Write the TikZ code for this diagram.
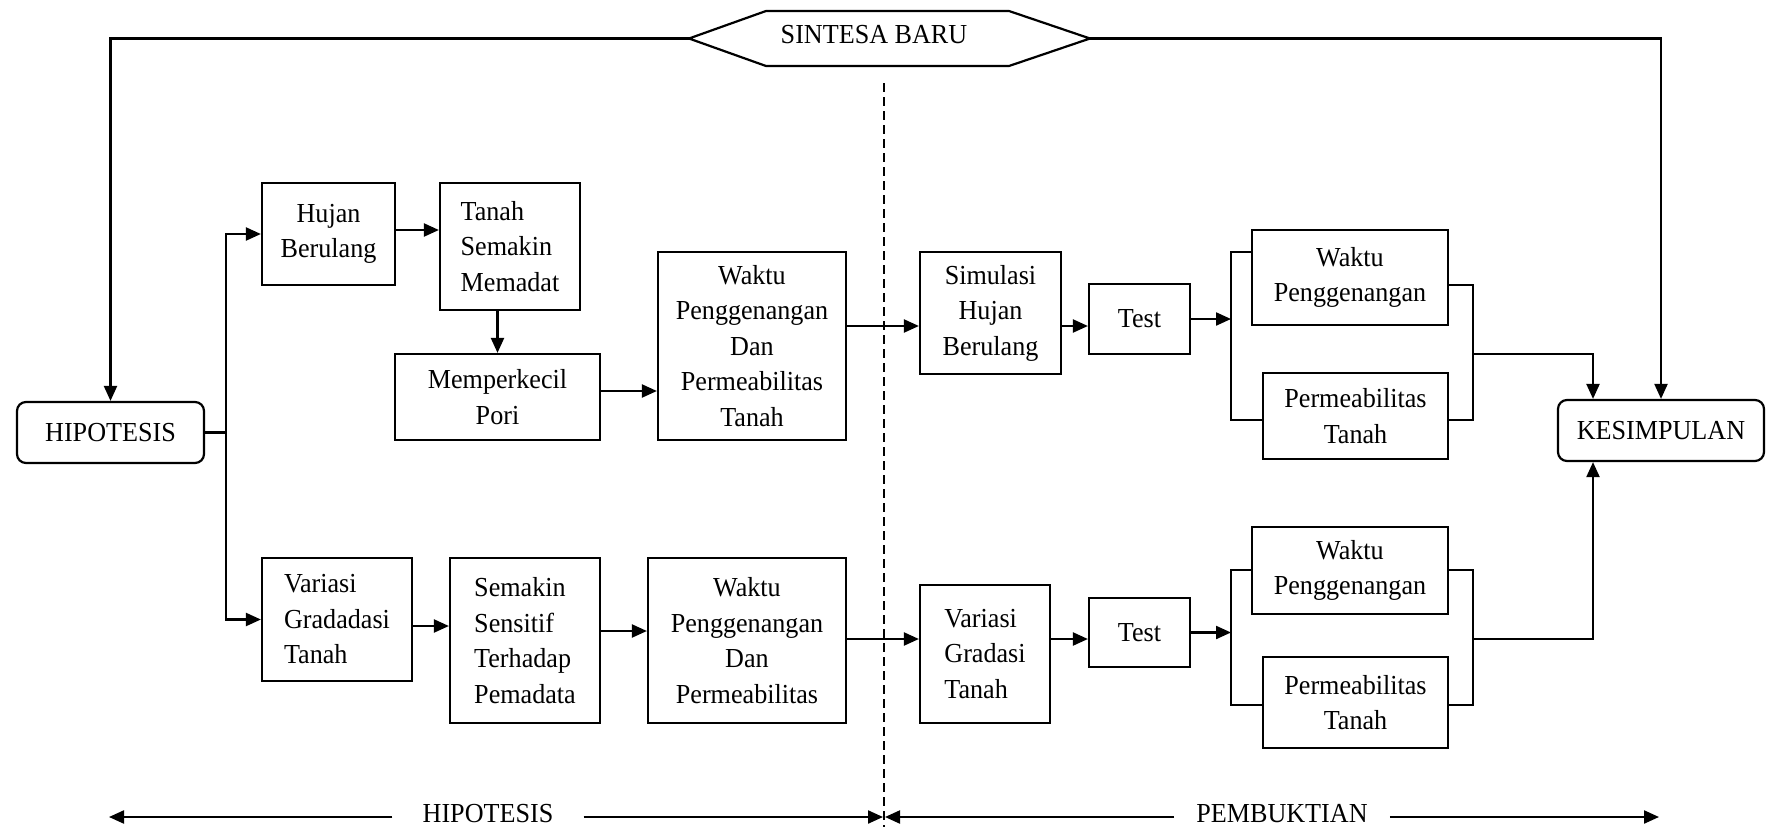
\documentclass[tikz,border=0pt]{standalone}
\usepackage{fontspec}
\setmainfont{Liberation Serif}[FakeStretch=0.95]
\usetikzlibrary{arrows.meta,calc}
\begin{document}
\begin{tikzpicture}[x=1pt,y=-1pt,
  every node/.style={font=\fontsize{27.5}{35.5}\selectfont},
  box/.style={draw, line width=2.2pt, inner sep=0pt, align=center},
  lbox/.style={box, align=left},
  rbox/.style={box, rounded corners=9pt},
  conn/.style={line width=2.2pt},
  arr/.style={conn, -{Triangle[length=15pt,width=13pt]}},
  sepline/.style={line width=1.6pt, dash pattern=on 9pt off 5pt}]
\useasboundingbox (0,0) rectangle (1767,827);
\fill[white] (0,0) rectangle (1767,827);

% hexagon
\coordinate (hexL) at (689,38.5);
\coordinate (hexR) at (1090,38.5);
\draw[conn] (hexL) -- (766,11) -- (1009,11) -- (hexR) -- (1009,66) -- (766,66) -- cycle;
\node[inner sep=0pt] (sin) at (874,35) {SINTESA BARU};

% left / right end boxes
\node[rbox, minimum width=187pt, minimum height=61pt] (hip) at (110.5,432.5) {HIPOTESIS};
\node[rbox, minimum width=206pt, minimum height=61pt] (kes) at (1661,430.5) {KESIMPULAN};

% upper hypothesis branch
\node[box, minimum width=133pt, minimum height=102pt] (hujan) at (328.5,234) {Hujan\\Berulang};
\node[lbox, minimum width=140pt, minimum height=127pt] (tanah) at (510,246.5) {Tanah\\Semakin\\Memadat};
\node[box, minimum width=205pt, minimum height=86pt] (memp) at (497.5,397) {Memperkecil\\Pori};
\node[box, minimum width=188pt, minimum height=188pt] (waktu1) at (752,346) {Waktu\\Penggenangan\\Dan\\Permeabilitas\\Tanah};

% lower hypothesis branch
\node[lbox, minimum width=150pt, minimum height=123pt] (var1) at (337,619.5) {Variasi\\Gradadasi\\Tanah};
\node[lbox, minimum width=150pt, minimum height=165pt] (sem) at (525,640.5) {Semakin\\Sensitif\\Terhadap\\Pemadata};
\node[box, minimum width=198pt, minimum height=165pt] (waktu2) at (747,640.5) {Waktu\\Penggenangan\\Dan\\Permeabilitas};

% upper proof branch
\node[box, minimum width=141pt, minimum height=122pt] (sim) at (990.5,313) {Simulasi\\Hujan\\Berulang};
\node[box, minimum width=101pt, minimum height=70pt] (test1) at (1139.5,319) {Test};
\node[box, minimum width=196pt, minimum height=95pt] (wp1) at (1350,277.5) {Waktu\\Penggenangan};
\node[box, minimum width=185pt, minimum height=86pt] (pt1) at (1355.5,416) {Permeabilitas\\Tanah};

% lower proof branch
\node[lbox, minimum width=130pt, minimum height=138pt] (var2) at (985,654) {Variasi\\Gradasi\\Tanah};
\node[box, minimum width=101pt, minimum height=69pt] (test2) at (1139.5,632.5) {Test};
\node[box, minimum width=196pt, minimum height=87pt] (wp2) at (1350,570.5) {Waktu\\Penggenangan};
\node[box, minimum width=185pt, minimum height=91pt] (pt2) at (1355.5,702.5) {Permeabilitas\\Tanah};

% helper coordinates
\coordinate (split) at (226,432.5);
\coordinate (r1) at (0,326);
\coordinate (r2) at (0,639);
\coordinate (rv) at (0,626);
\coordinate (rs) at (0,631);
\coordinate (bl1t) at (1231,252);
\coordinate (bl1b) at (1231,420);
\coordinate (br1t) at (1473,285);
\coordinate (br1b) at (1473,420);
\coordinate (br1m) at (1473,354);
\coordinate (bl2t) at (1231,570);
\coordinate (bl2b) at (1231,705);
\coordinate (br2t) at (1473,570);
\coordinate (br2b) at (1473,705);
\coordinate (br2m) at (1473,639);
\coordinate (kx) at (1593,0);

% top feedback lines
\draw[arr] (hexL) -| (hip.north);
\draw[arr] (hexR) -| (kes.north);

% hypothesis connectors
\draw[conn] (hip.east) -- (split);
\draw[arr] (split) |- (hujan.west);
\draw[arr] (split) |- (var1.west);
\draw[arr] (hujan.east |- 0,230) -- (tanah.west |- 0,230);
\draw[arr] (tanah.south -| memp.north) -- (memp.north);
\draw[arr] (memp.east |- 0,391) -- (waktu1.west |- 0,391);
\draw[arr] (var1.east |- rv) -- (sem.west |- rv);
\draw[arr] (sem.east |- rs) -- (waktu2.west |- rs);

% crossing to proof
\draw[arr] (waktu1.east |- r1) -- (sim.west |- r1);
\draw[arr] (sim.east |- r1) -- (test1.west |- r1);
\draw[arr] (test1.east) -- (test1.east -| bl1t);
\draw[arr] (waktu2.east |- r2) -- (var2.west |- r2);
\draw[arr] (var2.east |- r2) -- (test2.west |- r2);
\draw[arr] (test2.east) -- (test2.east -| bl2t);

% brackets
\draw[conn] (wp1.west |- bl1t) -- (bl1t) -- (bl1b) -- (pt1.west |- bl1b);
\draw[conn] (wp1.east |- br1t) -- (br1t) -- (br1b) -- (pt1.east |- br1b);
\draw[conn] (wp2.west |- bl2t) -- (bl2t) -- (bl2b) -- (pt2.west |- bl2b);
\draw[conn] (wp2.east |- br2t) -- (br2t) -- (br2b) -- (pt2.east |- br2b);
\draw[arr] (br1m) -| (kes.north -| kx);
\draw[arr] (br2m) -| (kes.south -| kx);

% divider
\coordinate (dt) at (884,83);
\coordinate (db) at (884,827);
\draw[sepline] (dt) -- (db);

% bottom labels
\node[inner xsep=30pt, inner ysep=0pt] (lh) at (488,814) {HIPOTESIS};
\node[inner xsep=22pt, inner ysep=0pt] (lp) at (1282,814) {PEMBUKTIAN};
\coordinate (a1) at (109,817);
\coordinate (a2) at (883,817);
\coordinate (a3) at (885,817);
\coordinate (a4) at (1659,817);
\draw[arr] (lh.west |- a1) -- (a1);
\draw[arr] (lh.east |- a2) -- (a2);
\draw[arr] (lp.west |- a3) -- (a3);
\draw[arr] (lp.east |- a4) -- (a4);
\end{tikzpicture}
\end{document}
